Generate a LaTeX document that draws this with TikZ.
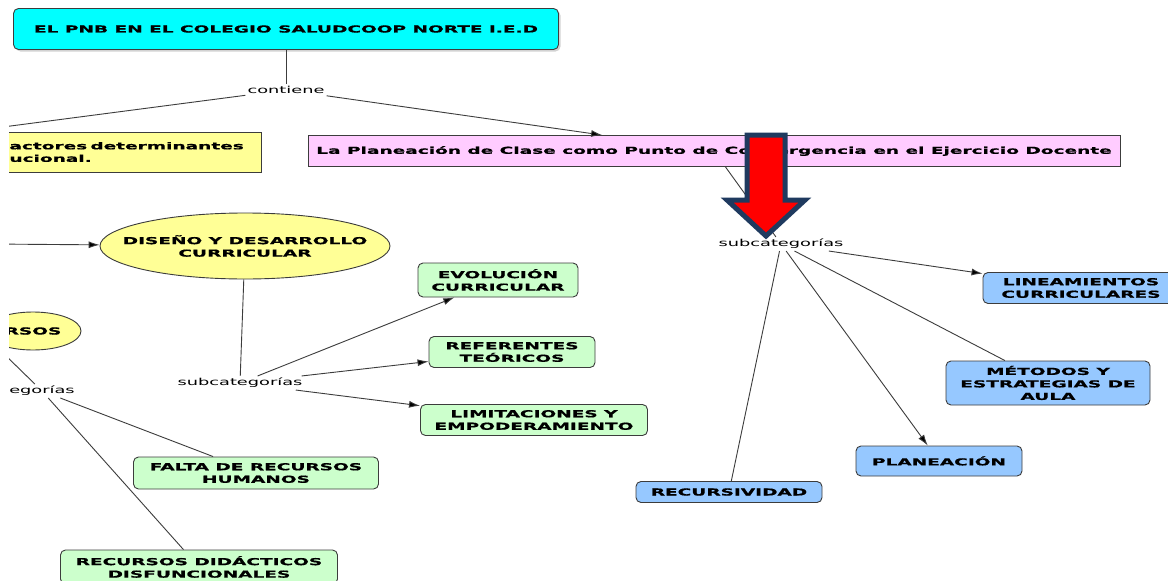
\documentclass[tikz,border=0pt]{standalone}
\usepackage{fontspec}
\newfontfamily\mapfont[FakeStretch=1.85,BoldFeatures={FakeStretch=1.93,FakeBold=0.8}]{DejaVu Sans}
\usetikzlibrary{arrows.meta,shapes.geometric,shadows}

\definecolor{cyanbox}{RGB}{0,255,255}
\definecolor{yellowbox}{RGB}{255,255,150}
\definecolor{pinkbox}{RGB}{255,204,255}
\definecolor{greenbox}{RGB}{204,255,204}
\definecolor{bluebox}{RGB}{150,200,255}
\definecolor{edgegrey}{RGB}{60,60,60}
\definecolor{navy}{RGB}{31,58,95}

\begin{document}
\begin{tikzpicture}[x=1pt,y=-1pt,>={Latex[length=11pt,width=7pt]},
                    font=\mapfont\fontsize{9.6}{12.5}\selectfont]

  \tikzstyle{concept}=[draw=edgegrey,line width=0.9pt,align=center,inner sep=1pt,
                       font=\mapfont\bfseries\fontsize{9.6}{12.5}\selectfont]
  \tikzstyle{roundbox}=[concept,rounded corners=5pt]
  \tikzstyle{oval}=[concept,ellipse,fill=yellowbox,inner xsep=-40pt,inner ysep=-6pt]
  \tikzstyle{linkword}=[inner sep=2pt]
  \tikzstyle{conn}=[draw=edgegrey,line width=0.9pt]

  \useasboundingbox (0,0) rectangle (1168,581);
  \fill[white] (0,0) rectangle (1168,581);
  \clip (9,0) rectangle (1168,581);

  \node[roundbox,fill=cyanbox,minimum width=545pt,minimum height=41pt,
        drop shadow={shadow xshift=2pt,shadow yshift=-2pt,opacity=0.35}]
        (PNB) at (286,29) {EL PNB EN EL COLEGIO SALUDCOOP NORTE I.E.D};
  \node[linkword] (cont) at (286,90) {contiene};

  \node[concept,fill=yellowbox,anchor=west,align=left,text width=246pt,
        inner xsep=6pt,minimum height=40pt] (FAC) at (3,152)
        {actores determinantes\\ucional.};
  \node[concept,fill=pinkbox,minimum width=812pt,minimum height=31pt]
        (PLC) at (714,151) {La Planeación de Clase como Punto de Convergencia en el Ejercicio Docente};

  % right branch
  \node[linkword] (subR) at (781,244) {subcategorías};
  \node[roundbox,fill=bluebox,minimum width=196pt,minimum height=31pt]
        (LIN) at (1081,288) {LINEAMIENTOS\\CURRICULARES};
  \node[roundbox,fill=bluebox,minimum width=204pt,minimum height=44pt]
        (MET) at (1048,383) {MÉTODOS Y\\ESTRATEGIAS DE\\AULA};
  \node[roundbox,fill=bluebox,minimum width=166pt,minimum height=30pt]
        (PLA) at (939,461) {PLANEACIÓN};
  \node[roundbox,fill=bluebox,minimum width=186pt,minimum height=21pt]
        (RCV) at (729,492) {RECURSIVIDAD};

  % left branch
  \node[oval,minimum width=290pt,minimum height=66pt] (DDC) at (245,246)
        {DISEÑO Y DESARROLLO\\CURRICULAR};
  \node[linkword] (subL) at (240,383) {subcategorías};
  \node[roundbox,fill=greenbox,minimum width=160pt,minimum height=34pt]
        (EVO) at (498,280) {EVOLUCIÓN\\CURRICULAR};
  \node[roundbox,fill=greenbox,minimum width=166pt,minimum height=31pt]
        (REF) at (512,352) {REFERENTES\\TEÓRICOS};
  \node[roundbox,fill=greenbox,minimum width=227pt,minimum height=31pt]
        (LIM) at (534,420) {LIMITACIONES Y\\EMPODERAMIENTO};

  \node[oval,minimum width=96pt,minimum height=38pt] (RSO) at (33,331) {RSOS};
  \node[linkword] (subLL) at (42,391) {egorías};
  \node[roundbox,fill=greenbox,minimum width=245pt,minimum height=32pt]
        (FRH) at (256,473) {FALTA DE RECURSOS\\HUMANOS};
  \node[roundbox,fill=greenbox,minimum width=277pt,minimum height=34pt]
        (RDD) at (199,567) {RECURSOS DIDÁCTICOS\\DISFUNCIONALES};

  \coordinate (facTop) at (-20,130);
  \coordinate (inDDC) at (-10,244);
  \coordinate (rsoBot) at (0,350);

  \path[conn]
  (PNB)  edge       (cont)
  (cont) edge       (facTop)
  (cont) edge[->]   (PLC)
  (PLC)  edge       (subR)
  (subR) edge[->]   (LIN)
  (subR) edge       (MET)
  (subR) edge[->]   (PLA)
  (subR) edge       (RCV)

  (inDDC) edge[->]  (DDC)
  (DDC)  edge       (subL)
  (subL) edge[->]   (EVO)
  (subL) edge[->]   (REF)
  (subL) edge[->]   (LIM)

  (rsoBot) edge     (subLL)
  (subLL) edge      (FRH)
  (subLL) edge      (RDD)
  ;

  % red marker arrow
  \draw[navy,fill=red,line width=5pt,line join=miter]
    (747,135) -- (785,135) -- (785,200) -- (805,200) -- (766,236)
    -- (727,200) -- (747,200) -- cycle;
\end{tikzpicture}
\end{document}
